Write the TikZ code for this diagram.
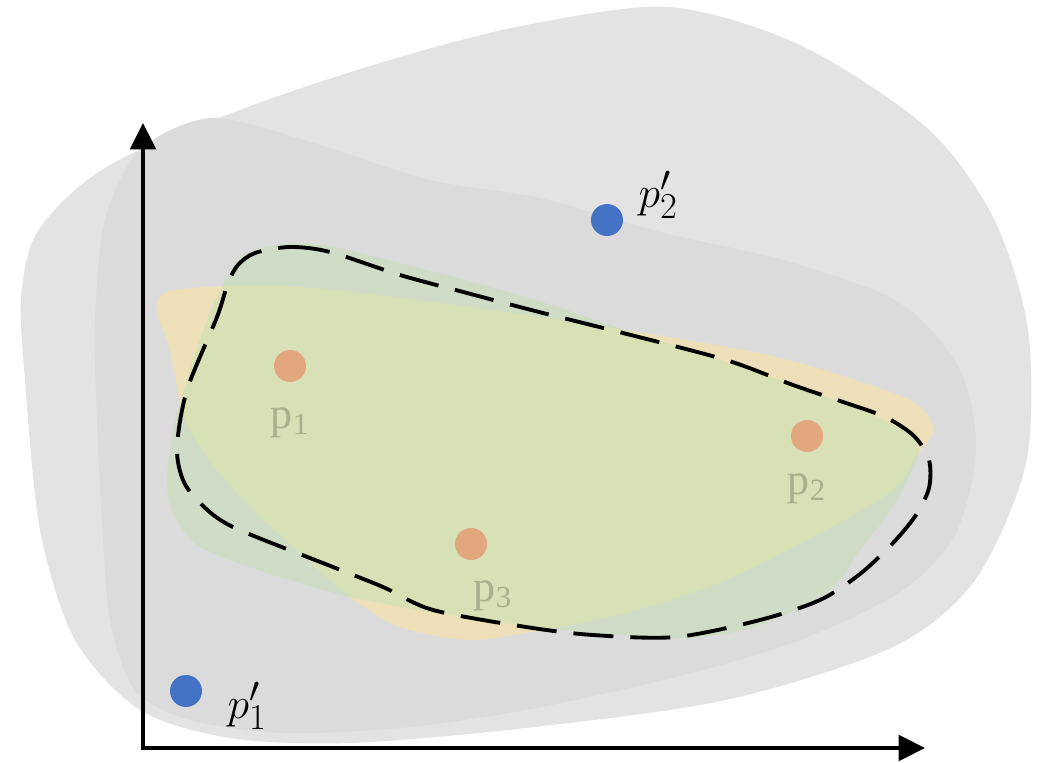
\documentclass[tikz,border=0pt]{standalone}
\usepackage{fontspec}
\usepackage{tikz}
\usetikzlibrary{arrows.meta,positioning}
\newfontfamily\labelfont{Liberation Serif}
\definecolor{OuterGray}{HTML}{E3E3E3}
\definecolor{InnerGray}{HTML}{DBDBDB}
\definecolor{Sand}{HTML}{FFE699}
\definecolor{Leaf}{HTML}{C5E0B4}
\definecolor{Blue}{HTML}{4472C4}
\definecolor{Orange}{HTML}{E3A77F}
\definecolor{Faded}{HTML}{A8AF8D}

\begin{document}
\begin{tikzpicture}[
  x=0.02cm,y=-0.02cm,
  border/.style={black,line width=2.2pt,dash pattern=on 0.8cm off 0.34cm},
  axis/.style={black,line width=2.3pt,{Triangle[length=15pt,width=14.5pt]}-{Triangle[length=15pt,width=14.5pt]}},
  sample/.style={circle,fill=Orange,minimum size=0.64cm,inner sep=0pt},
  shifted/.style={circle,fill=Blue,minimum size=0.64cm,inner sep=0pt},
  plab/.style={inner sep=0pt,text=Faded,font=\labelfont\fontsize{25}{28}\selectfont},
  qlab/.style={inner sep=0pt,font=\Huge}
]
\useasboundingbox (0,0) rectangle (1056,763);

% regions
\fill[OuterGray] plot[smooth cycle] coordinates {(25,380) (21,300) (34,238) (75,190) (133,153) (267,100) (400,57) (526,25) (669,7) (800,45) (926,127) (993,217) (1028,330) (1026,463) (975,580) (893,647) (726,700) (526,728) (350,743) (230,738) (140,710) (75,640) (40,530)};
\fill[InnerGray] plot[smooth cycle] coordinates {(213,118) (320,145) (430,180) (540,198) (660,232) (790,262) (900,303) (960,370) (976,450) (955,535) (900,592) (800,640) (680,676) (526,710) (400,728) (283,733) (190,720) (135,690) (110,620) (102,520) (97,420) (95,320) (105,220) (140,150)};
\fill[Sand,fill opacity=0.5] plot[smooth cycle] coordinates {(175,290) (300,287) (526,315) (759,353) (893,393) (925,412) (933,432) (916,457) (893,490) (826,530) (726,580) (626,613) (526,633) (467,640) (400,627) (350,597) (300,553) (250,507) (207,457) (183,413) (170,350) (157,310)};
\fill[Leaf,fill opacity=0.5] plot[smooth cycle] coordinates {(253,250) (310,243) (400,263) (526,297) (620,328) (760,373) (860,410) (910,435) (918,455) (893,507) (860,550) (830,590) (760,625) (686,638) (560,630) (450,615) (350,597) (267,573) (200,547) (173,513) (167,480) (173,430) (187,380) (207,320) (233,267)};

% boundary
\draw[border] plot[smooth cycle,tension=0.5] coordinates {(255,253) (290,247) (330,252) (400,275) (467,293) (539,312) (619,332) (726,360) (793,385) (843,402) (885,417) (914,436) (929,460) (929,488) (916,515) (893,543) (860,574) (820,600) (760,620) (676,637) (593,635) (526,627) (433,610) (383,587) (333,567) (233,527) (200,503) (183,480) (177,447) (187,390) (217,317) (228,283) (238,265)};

% axes
\coordinate (ytip) at (143,123);
\coordinate (xtip) at (925,748);
\draw[axis] (ytip) |- (xtip);

% points
\node[sample] (p1) at (290,366) {};
\node[sample] (p2) at (807,436) {};
\node[sample] (p3) at (471,544) {};
\node[shifted] (q1) at (186,691) {};
\node[shifted] (q2) at (607,220) {};

\node[plab,below=0.5cm of p1] (p1lab) {p\textsubscript{1}};
\node[plab,below=0.42cm of p2] (p2lab) {p\textsubscript{2}};
\node[plab,below=0.4cm of p3,xshift=0.44cm] (p3lab) {p\textsubscript{3}};
\node[qlab,right=0.3cm of q2,yshift=0.5cm] (q2lab) {$p'_2$};
\node[qlab,right=0.5cm of q1,yshift=-0.3cm] (q1lab) {$p'_1$};
\end{tikzpicture}
\end{document}
